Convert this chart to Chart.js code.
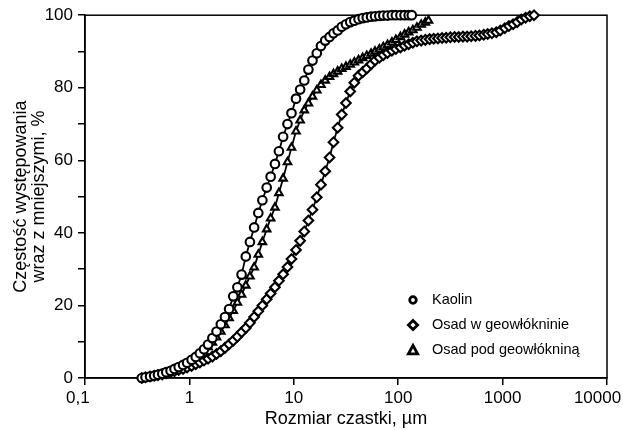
<!DOCTYPE html>
<html lang="pl">

<head>
    <meta charset="UTF-8">
    <title>Rozmiar cząstki</title>
    <style>
        body { margin: 0; background: #fff; }
    </style>
</head>

<body>

    <div style="width: 623px; height: 430px;">
        <canvas id="myChart"></canvas>
    </div>

    <script src="https://cdn.jsdelivr.net/npm/chart.js"></script>
    <script>
        // serie
        const seriesNames = ["Kaolin", "Osad w geowłókninie", "Osad pod geowłókniną"];

        const kaolinX = [0.35, 0.38, 0.42, 0.46, 0.5, 0.55, 0.6, 0.66, 0.72, 0.79, 0.87, 0.95, 1.05, 1.15, 1.26, 1.38, 1.51, 1.66, 1.82, 2.0,
            2.19, 2.4, 2.63, 2.88, 3.16, 3.47, 3.8, 4.17, 4.57, 5.0, 5.5, 6.0, 6.6, 7.2, 7.9, 8.7, 9.5, 10.5, 11.5, 12.6,
            13.8, 15.1, 16.6, 18.2, 20, 22, 24, 26.3, 28.8, 31.6, 34.7, 38, 41.7, 45.7, 50, 55, 60, 66, 72, 79,
            87, 95, 105, 115, 126, 135];
        const kaolinY = [0, 0.2, 0.4, 0.6, 0.9, 1.2, 1.6, 2.0, 2.5, 3.0, 3.6, 4.2, 5.0, 5.8, 6.8, 7.9, 9.2, 11, 12.8, 14.8,
            16.8, 19, 22.5, 25, 28.5, 33.5, 37.5, 41.5, 45.5, 49, 52.5, 55.5, 59, 62.5, 66.5, 70, 73, 77, 79.5, 82,
            85, 87.5, 89.5, 91.5, 93, 94, 95, 95.8, 96.8, 97.5, 98.1, 98.5, 98.9, 99.2, 99.4, 99.6, 99.7, 99.8, 99.9, 99.9,
            100, 100, 100, 100, 100, 100];

        const wGeoX = [0.35, 0.38, 0.42, 0.46, 0.5, 0.55, 0.6, 0.66, 0.72, 0.79, 0.87, 0.95, 1.05, 1.15, 1.26, 1.38, 1.51, 1.66, 1.82, 2.0,
            2.19, 2.4, 2.63, 2.88, 3.16, 3.47, 3.8, 4.17, 4.57, 5.0, 5.5, 6.0, 6.6, 7.2, 7.9, 8.7, 9.5, 10.5, 11.5, 12.6,
            13.8, 15.1, 16.6, 18.2, 20, 22, 24, 26.3, 28.8, 31.6, 34.7, 38, 41.7, 45.7, 50, 55, 60, 66, 72, 79,
            87, 95, 105, 115, 126, 138, 151, 166, 182, 200, 219, 240, 263, 288, 316, 347, 380, 417, 457, 500,
            550, 600, 660, 720, 790, 870, 950, 1050, 1150, 1260, 1380, 1510, 1660, 1820, 2000];
        const wGeoY = [0, 0.2, 0.4, 0.6, 0.8, 1.0, 1.3, 1.6, 1.9, 2.2, 2.5, 2.9, 3.3, 3.8, 4.3, 4.8, 5.3, 5.9, 6.6, 7.4,
            8.3, 9.3, 10.3, 11.4, 12.6, 13.8, 15.2, 16.8, 18.4, 20, 21.7, 23.3, 25, 26.8, 28.6, 30.6, 32.8, 35.3, 37.8, 40.4,
            43.4, 46.4, 49.8, 53.3, 57, 60.8, 65, 69, 72.6, 75.8, 79, 81.4, 83.3, 84.3, 85.3, 86.5, 87.5, 88.3, 89, 89.6,
            90.2, 90.7, 91.1, 91.6, 92, 92.4, 92.8, 93, 93.2, 93.4, 93.5, 93.6, 93.7, 93.8, 93.9, 94, 94, 94.1, 94.1, 94.2,
            94.3, 94.4, 94.6, 94.8, 95, 95.3, 95.8, 96.4, 97, 97.5, 98.1, 98.8, 99.3, 99.7, 100];

        const podGeoX = [0.38, 0.42, 0.46, 0.5, 0.55, 0.6, 0.66, 0.72, 0.79, 0.87, 0.95, 1.05, 1.15, 1.26, 1.38, 1.51, 1.66, 1.82, 2.0,
            2.19, 2.4, 2.63, 2.88, 3.16, 3.47, 3.8, 4.17, 4.57, 5.0, 5.5, 6.0, 6.6, 7.2, 7.9, 8.7, 9.5, 10.5, 11.5, 12.6,
            13.8, 15.1, 16.6, 18.2, 20, 22, 24, 26.3, 28.8, 31.6, 34.7, 38, 41.7, 45.7, 50, 55, 60, 66, 72, 79,
            87, 95, 105, 115, 126, 138, 151, 166, 182, 195];
        const podGeoY = [0, 0.2, 0.4, 0.6, 0.9, 1.2, 1.5, 1.9, 2.3, 2.8, 3.4, 4.0, 4.8, 5.6, 6.6, 8.5, 9.8, 11.2, 12.8,
            14.6, 16.5, 18.5, 20.8, 23, 25.5, 28, 30.5, 34, 37.5, 41, 44, 47, 51, 55, 59.5, 63.5, 68, 71, 73.8,
            75.7, 77.6, 79.3, 80.8, 82, 83, 83.8, 84.5, 85.2, 85.8, 86.4, 87, 87.6, 88.2, 88.8, 89.4, 90, 90.6, 91.2, 91.8,
            92.5, 93.2, 94, 94.7, 95.3, 95.9, 96.6, 97.4, 98, 98.5];

        // osie
        const xTicks = [0.1, 1, 10, 100, 1000, 10000];
        const xTickLabels = ["0,1", "1", "10", "100", "1000", "10000"];
        const yLabelTicks = [0, 20, 40, 60, 80, 100];

        const pointStyles = ["circle", "rectRot", "triangle"];

        function f_points(xs, ys) {
            let v_arr = [];
            for (let i = 0; i < xs.length; i++) {
                v_arr.push({ x: xs[i], y: ys[i] });
            }
            return v_arr;
        }

        const v_series = [
            f_points(kaolinX, kaolinY),
            f_points(wGeoX, wGeoY),
            f_points(podGeoX, podGeoY)
        ];

        let v_datasets = [];
        for (let i = 0; i < v_series.length; i++) {
            v_datasets.push({
                label: seriesNames[i],
                data: v_series[i],
                showLine: true,
                borderColor: "#000",
                borderWidth: 1.8,
                pointStyle: pointStyles[i],
                pointRadius: i == 1 ? 4.8 : 4.3,
                pointBorderWidth: 2.1,
                pointBorderColor: "#000",
                pointBackgroundColor: "#fff",
                clip: false
            });
        }

        Chart.defaults.font.family = "'Liberation Sans', Arial, sans-serif";
        Chart.defaults.color = "#000";

        // ramka wykresu
        const boxPlugin = {
            id: "box",
            beforeDatasetsDraw(chart) {
                const a = chart.chartArea;
                const c = chart.ctx;
                c.save();
                c.strokeStyle = "#000";
                c.lineWidth = 1.5;
                c.strokeRect(a.left, a.top, a.right - a.left, a.bottom - a.top);
                c.restore();
            }
        };

        // legenda w polu wykresu
        const legendPlugin = {
            id: "myLegend",
            afterDraw(chart) {
                const c = chart.ctx;
                const mx = 413, tx = 432;
                const rows = [300, 325, 350];
                c.save();
                c.strokeStyle = "#000";
                c.fillStyle = "#fff";
                c.lineWidth = 2.8;
                for (let i = 0; i < seriesNames.length; i++) {
                    const y = rows[i];
                    c.beginPath();
                    if (pointStyles[i] == "circle") {
                        c.arc(mx, y, 3.3, 0, Math.PI * 2);
                    } else if (pointStyles[i] == "rectRot") {
                        c.moveTo(mx, y - 4.6);
                        c.lineTo(mx + 4.6, y);
                        c.lineTo(mx, y + 4.6);
                        c.lineTo(mx - 4.6, y);
                        c.closePath();
                    } else {
                        c.moveTo(mx, y - 4.5);
                        c.lineTo(mx + 4.6, y + 3.8);
                        c.lineTo(mx - 4.6, y + 3.8);
                        c.closePath();
                    }
                    c.fill();
                    c.stroke();
                    c.fillStyle = "#000";
                    c.font = "14.5px 'Liberation Sans', Arial, sans-serif";
                    c.textBaseline = "middle";
                    c.fillText(seriesNames[i], tx, y);
                    c.fillStyle = "#fff";
                }
                c.restore();
            }
        };

        const ctx = document.querySelector("#myChart");

        new Chart(ctx, {
            type: "scatter",
            data: { datasets: v_datasets },
            plugins: [boxPlugin, legendPlugin],
            options: {
                responsive: true,
                maintainAspectRatio: false,
                animation: false,
                layout: { padding: { top: 13, right: 16, left: 0, bottom: 0 } },
                plugins: {
                    legend: { display: false },
                    tooltip: { enabled: false }
                },
                scales: {
                    x: {
                        type: "logarithmic",
                        min: 0.1,
                        max: 10000,
                        afterBuildTicks: (scale) => {
                            scale.ticks = xTicks.map(v => ({ value: v }));
                        },
                        afterFit: (scale) => {
                            scale.height = 52;
                            scale.paddingLeft = 0;
                            scale.paddingRight = 0;
                        },
                        ticks: {
                            autoSkip: false,
                            maxRotation: 0,
                            padding: 3,
                            font: { size: 17 },
                            callback: (value, index) => {
                                // pierwsza i ostatnia etykieta przesunięte w lewo jak w oryginale
                                if (index == 0) return xTickLabels[index] + "   ";
                                if (index == xTickLabels.length - 1) return xTickLabels[index] + "    ";
                                return xTickLabels[index];
                            }
                        },
                        grid: {
                            drawOnChartArea: false,
                            color: "#000",
                            lineWidth: 1.5,
                            tickLength: 7
                        },
                        border: { color: "#000", width: 1.5 },
                        title: {
                            display: true,
                            text: "Rozmiar czastki, µm",
                            font: { size: 18 },
                            padding: { top: 0, bottom: 0 }
                        }
                    },
                    y: {
                        min: 0,
                        max: 100,
                        afterFit: (scale) => {
                            scale.width = 85;
                        },
                        ticks: {
                            stepSize: 10,
                            padding: 5,
                            font: { size: 17 },
                            callback: (value) => yLabelTicks.indexOf(value) != -1 ? value : ""
                        },
                        grid: {
                            drawOnChartArea: false,
                            color: "#000",
                            lineWidth: 1.5,
                            tickLength: 7
                        },
                        border: { color: "#000", width: 1.5 },
                        title: {
                            display: true,
                            text: ["Częstość występowania", "wraz z mniejszymi, %"],
                            font: { size: 18, lineHeight: 1 },
                            padding: { top: 12, bottom: 0 }
                        }
                    }
                }
            }
        });
    </script>

</body>

</html>
